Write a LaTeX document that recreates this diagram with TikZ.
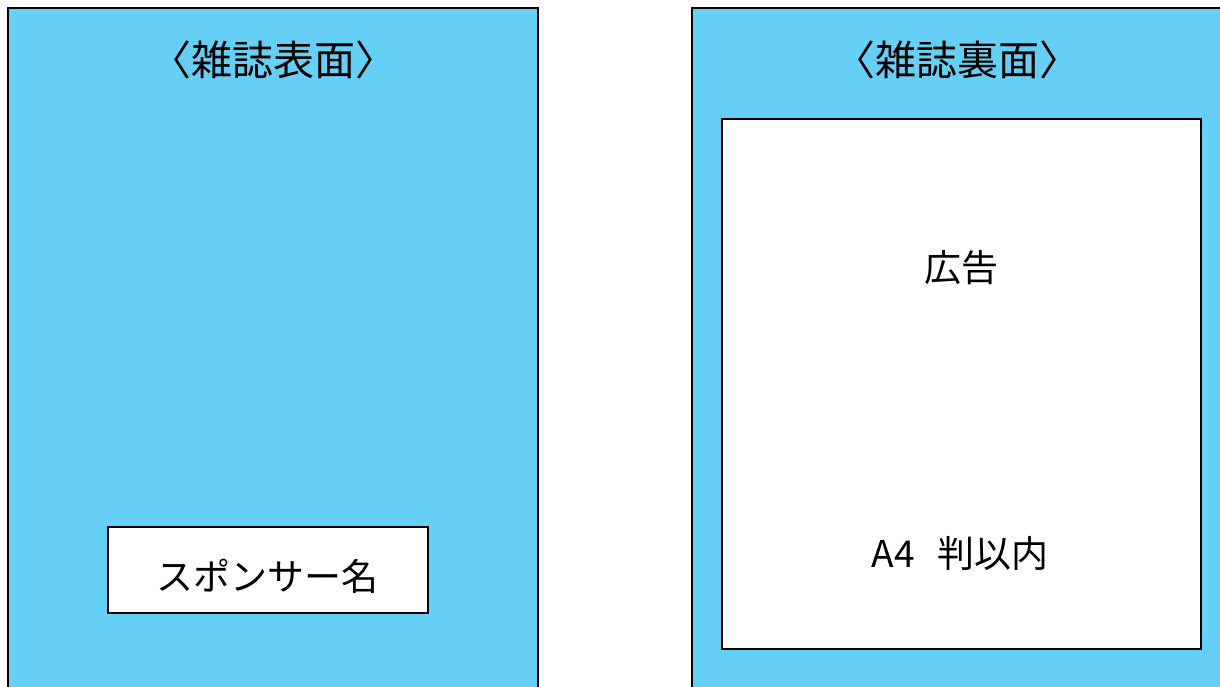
\documentclass[tikz,border=0pt]{standalone}
\usepackage{fontspec}
\setmainfont{Noto Sans CJK JP}
\usepackage{tikz}
\usetikzlibrary{positioning}
\definecolor{fond}{RGB}{102,207,245}
\tikzset{
	panneau/.style={draw=black,line width=1.5pt,fill=fond},
	cadre/.style={draw=black,line width=1.5pt,fill=white},
	texte/.style={inner sep=0pt,font=\fontsize{37}{42}\selectfont},
	titre/.style={inner sep=0pt,font=\fontsize{41}{46}\selectfont}
}

\begin{document}
\begin{tikzpicture}[x=1pt,y=-1pt]
	\def\largeur{1220}
	\def\hauteur{686}
\useasboundingbox (0,0) rectangle (\largeur,\hauteur);
\clip (0,0) rectangle (\largeur,\hauteur); % Clips the picture...

%Panneaux
\draw[panneau] (8,8) rectangle (538,720);
\draw[panneau] (692,8) rectangle (1240,720);

%Cadres blancs
\node[cadre,minimum width=320pt,minimum height=86pt,anchor=north west] (sponsor) at (107,526) {};
\node[cadre,minimum width=479pt,minimum height=530pt,anchor=north west] (pub) at (721,118) {};

%Textes
\node[titre] (titreA) at (273,60) {〈雑誌表面〉};
\node[titre] (titreB) at (957,60) {〈雑誌裏面〉};
\node[texte] (nom) at ([yshift=-7pt]sponsor.center) {スポンサー名};
\node[texte] (ad) at (961,268) {広告};
\node[texte] (taille) at (960,553) {A4\hspace{22pt}判以内};

\end{tikzpicture}
\end{document}
